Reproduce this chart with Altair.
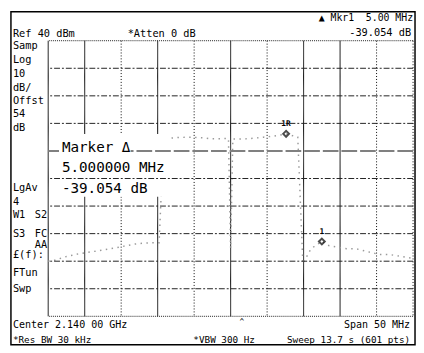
import altair as alt
import pandas as pd

# ---- data ----
trace_f = [2115.0, 2115.8, 2117.5, 2119.2, 2121.9, 2124.2, 2125.5, 2126.8, 2128.2, 2130.2,
           2130.8, 2131.5, 2133.0, 2134.7, 2136.5, 2137.2, 2139.7, 2140.0, 2140.3, 2142.4,
           2144.5, 2146.0, 2147.6, 2149.2, 2149.9, 2151.0, 2152.5, 2153.5, 2155.9, 2157.2,
           2160.4, 2161.8, 2165.0]
trace_a = [-40.0, -39.7, -38.3, -37.3, -36.2, -35.2, -34.5, -33.8, -33.4, -33.3,
           3.8, 4.6, 4.9, 5.0, 4.7, 4.4, 4.5, -35.3, 4.3, 4.4,
           5.0, 5.4, 6.2, 5.0, -41.0, -35.5, -32.85, -34.4, -35.5, -35.5,
           -37.6, -37.6, -39.0]
grid_f = [2115, 2120, 2125, 2130, 2135, 2140, 2145, 2150, 2155, 2160, 2165]
grid_a = [40, 30, 20, 10, 0, -10, -20, -30, -40, -50, -60]
marker_f = [2147.6, 2152.5]
marker_a = [6.2, -32.85]
marker_lbl = ["1R", "1"]

W, H = 372, 281
FONT = "DejaVu Sans Mono"
NB = "\u00a0"

xs = alt.Scale(domain=[2115, 2165], nice=False, zero=False)
ys = alt.Scale(domain=[-60, 40], nice=False, zero=False)

trace_df = pd.DataFrame({"f": trace_f, "a": trace_a})
vgrid_df = pd.DataFrame({"f": grid_f})
hgrid_df = pd.DataFrame({"a": grid_a})
mk_df = pd.DataFrame({"f": marker_f, "a": marker_a, "lbl": marker_lbl})
one = alt.Data(values=[{"k": 0}])


def box(x1, x2, y1, y2, **kw):
    return alt.Chart(one).mark_rect(**kw).encode(
        x=alt.value(x1), x2=alt.value(x2), y=alt.value(y1), y2=alt.value(y2))


def txt(s, x, y, size=10.5, align="left", weight="normal"):
    return alt.Chart(one).mark_text(
        text=s, font=FONT, fontSize=size, align=align, baseline="middle",
        fontWeight=weight, color="black").encode(x=alt.value(x), y=alt.value(y))


frame = box(-38, 374, -29.5, 310, fillOpacity=0, stroke="black", strokeWidth=1.5)

vgrid = alt.Chart(vgrid_df).mark_rule(color="black", strokeWidth=1).encode(
    x=alt.X("f:Q", scale=xs, axis=None),
    strokeDash={"condition": {"test": "datum.f == 2125 || datum.f == 2135 || datum.f == 2145 || datum.f == 2160 || datum.f == 2165",
                              "value": [1, 2]},
                "value": [1, 0]},
)

trace = alt.Chart(trace_df).mark_line(color="#9a9a9a", strokeWidth=1.5, strokeDash=[1.5, 4.5]).encode(
    x=alt.X("f:Q", scale=xs, axis=None),
    y=alt.Y("a:Q", scale=ys, axis=None),
)

whitebox = box(6, 123, 95, 159, color="white")

hgrid = alt.Chart(hgrid_df).mark_rule().encode(
    y=alt.Y("a:Q", scale=ys, axis=None),
    color={"condition": {"test": "datum.a == 0", "value": "#808080"}, "value": "#222222"},
    strokeWidth={"condition": {"test": "datum.a == 0", "value": 2}, "value": 1},
    strokeDash={"condition": [{"test": "datum.a == 0", "value": [16, 3]},
                              {"test": "datum.a == 40 || datum.a == -60", "value": [1, 1]}],
                "value": [6, 2, 2, 2]},
)

mbg = box(11, 84, 101, 118, color="white")

markers = alt.Chart(mk_df).mark_point(shape="diamond", filled=False, color="black",
                                      strokeWidth=2, size=36).encode(
    x=alt.X("f:Q", scale=xs, axis=None), y=alt.Y("a:Q", scale=ys, axis=None))
mlabels = alt.Chart(mk_df).mark_text(font=FONT, fontSize=8, fontWeight="bold", dy=-10,
                                     color="black").encode(
    x=alt.X("f:Q", scale=xs, axis=None), y=alt.Y("a:Q", scale=ys, axis=None), text="lbl:N")

texts = [
    txt("Ref 40 dBm", -36, -7),
    txt("*Atten 0 dB", 81, -7),
    txt("▲ Mkr1" + NB + NB + "5.00 MHz", 372, -23, size=10, align="right"),
    txt("-39.054 dB", 370, -8, align="right"),
    txt("Samp", -36, 5), txt("Log", -36, 20), txt("10", -36, 34), txt("dB/", -36, 48),
    txt("Offst", -36, 62), txt("54", -36, 75), txt("dB", -36, 89),
    txt("LgAv", -36, 150), txt("4", -36, 165),
    txt("W1", -36, 178), txt("S2", -1, 178, align="right"),
    txt("S3", -36, 197), txt("FC", -1, 197, align="right"),
    txt("AA", -1, 208, align="right"),
    txt("£(f):", -36, 219), txt("FTun", -36, 237), txt("Swp", -36, 253),
    txt("Marker Δ", 14, 109, size=14.5),
    txt("5.000000 MHz", 14, 130, size=14.5),
    txt("-39.054 dB", 14, 151, size=14.5),
    txt("Center 2.140 00 GHz", -36, 290, size=10.2),
    txt("Span 50 MHz", 369, 290, size=10.2, align="right"),
    txt("*Res BW 30 kHz", -36, 305.5, size=9.5),
    txt("*VBW 300 Hz", 148, 305.5, size=9.5),
    txt("Sweep 13.7 s (601 pts)", 369, 305.5, size=9.5, align="right"),
    txt("^", 195, 287, size=8),
]

chart = alt.layer(frame, vgrid, trace, whitebox, hgrid, mbg, markers, mlabels, *texts).properties(
    width=W, height=H,
    autosize=alt.AutoSizeParams(type="none"),
    padding={"left": 41, "top": 30, "right": 3, "bottom": 31},
    background="white",
).configure_view(stroke=None)

chart.save("out.html", embed_options={"renderer": "svg", "actions": False})
